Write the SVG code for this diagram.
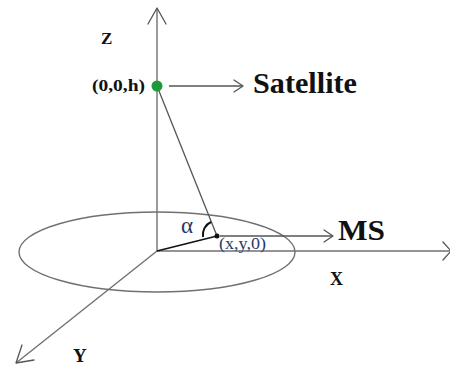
<svg xmlns="http://www.w3.org/2000/svg" width="450" height="366" viewBox="0 0 450 366">
<style>
.ax{stroke:#707070;stroke-width:1.4;fill:none}
.ln{stroke:#555;stroke-width:1.3;fill:none}
.ah{stroke:#555;stroke-width:1.3;fill:none;stroke-linecap:round;stroke-linejoin:round}
.lb{font-family:"Liberation Serif","Times New Roman",serif;font-weight:bold;fill:#111}
.sm{font-family:"Liberation Serif","Times New Roman",serif;fill:#2a3a6a}
</style>
<rect width="450" height="366" fill="#fff"/>
<g id="axes">
<line class="ax" x1="157" y1="8" x2="157" y2="251"/>
<polyline class="ah" points="148,24 157,8 166,24" stroke="#707070"/>
<line class="ax" x1="157" y1="251" x2="451" y2="251"/>
<polyline class="ah" points="443,242 451,251 443,260" stroke="#707070"/>
<line class="ax" x1="157" y1="251" x2="16" y2="363"/>
<polyline class="ah" points="22,345 16,363 34,360" stroke="#707070"/>
</g>
<g id="ellipse">
<ellipse cx="157" cy="252" rx="138" ry="40" class="ax"/>
</g>
<g id="connectors">
<line class="ln" x1="157" y1="86" x2="217" y2="236"/>
<line x1="157" y1="251" x2="217" y2="236" stroke="#111" stroke-width="1.3"/>
<line class="ln" x1="169" y1="86" x2="243" y2="86"/>
<polyline class="ah" points="234,80 243,86 234,92"/>
<line class="ln" x1="220" y1="236" x2="333" y2="236"/>
<polyline class="ah" points="324,230 333,236 324,242"/>
<path d="M203,237 A14,14 0 0 1 211,222" stroke="#111" stroke-width="2" fill="none"/>
</g>
<g id="satellite">
<circle cx="157" cy="86" r="5.5" fill="#1e9a3c"/>
<text class="lb" x="92" y="91" font-size="17" textLength="53" lengthAdjust="spacingAndGlyphs">(0,0,h)</text>
<text class="lb" x="253" y="93" font-size="29" textLength="104" lengthAdjust="spacingAndGlyphs">Satellite</text>
</g>
<g id="ms">
<circle cx="217" cy="236" r="2.5" fill="#111"/>
<text class="lb" x="338" y="240" font-size="30" textLength="47" lengthAdjust="spacingAndGlyphs">MS</text>
<text class="sm" x="219" y="249" font-size="17" textLength="47" lengthAdjust="spacingAndGlyphs">(x,y,0)</text>
<text class="sm" x="181" y="233" font-size="23">α</text>
</g>
<g id="labels">
<text class="lb" x="101" y="44" font-size="17">Z</text>
<text class="lb" x="330" y="285" font-size="18">X</text>
<text class="lb" x="73" y="362" font-size="19">Y</text>
</g>
</svg>
